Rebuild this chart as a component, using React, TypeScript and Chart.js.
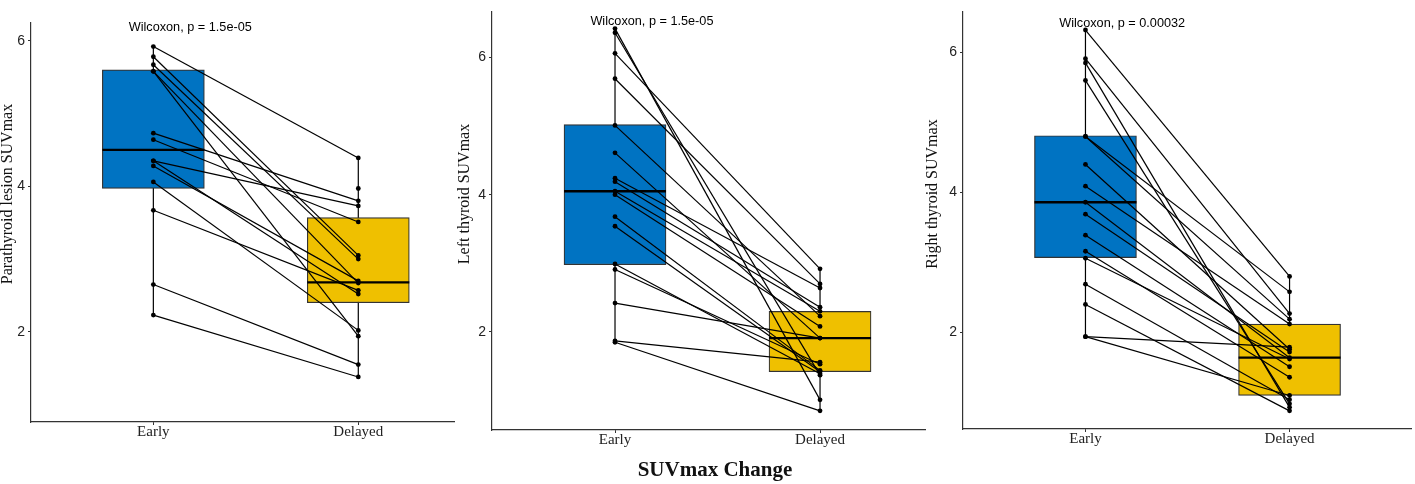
import React, { useEffect, useRef } from 'react';
import { Chart, registerables } from 'chart.js';
Chart.register(...registerables);

// ---- data ----
const xLabels = ['Early', 'Delayed'];
const yTickValues = [2, 4, 6];
const yTitles = ['Parathyroid lesion SUVmax', 'Left thyroid SUVmax', 'Right thyroid SUVmax'];
const pLabels = ['Wilcoxon, p = 1.5e-05', 'Wilcoxon, p = 1.5e-05', 'Wilcoxon, p = 0.00032'];
const xTitle = 'SUVmax Change';

// Panel 1: parathyroid lesion (paired early / delayed values)
const early1 = [5.92, 5.78, 5.67, 5.58, 5.58, 4.73, 4.64, 4.35, 4.35, 4.28, 4.06, 3.67, 2.65, 2.23, null];
const delayed1 = [4.39, 3.05, 3.0, 1.94, 2.67, 3.8, 3.51, 3.73, 2.52, 2.7, 2.02, 2.57, 1.55, 1.38, 3.97];
const box1Early = [3.97, 4.5, 5.6]; // q1, median, q3
const box1Delayed = [2.4, 2.68, 3.57];

// Panel 2: left thyroid
const early2 = [6.42, 6.36, 6.06, 5.69, 5.01, 4.61, 4.24, 4.19, 4.05, 4.0, 3.68, 3.54, 2.99, 2.91, 2.42, 1.87, 1.85];
const delayed2 = [1.01, 1.37, 2.92, 2.7, 2.23, 1.91, 2.64, 2.36, 2.3, 2.08, 1.44, 1.42, 1.39, 1.53, 1.91, 1.56, 0.85];
const box2Early = [2.98, 4.05, 5.02];
const box2Delayed = [1.42, 1.91, 2.3];

// Panel 3: right thyroid
const early3 = [6.32, 5.91, 5.85, 5.6, 4.8, 4.8, 4.4, 4.09, 3.86, 3.69, 3.39, 3.16, 3.06, 2.69, 2.4, 1.94, 1.94];
const delayed3 = [2.8, 2.27, 0.93, 0.98, 2.58, 2.19, 1.76, 2.12, 1.64, 1.72, 1.51, 1.36, 1.62, 1.04, 0.88, 1.79, 1.1];
const box3Early = [3.07, 3.86, 4.81];
const box3Delayed = [1.1, 1.64, 2.12];

const BLUE = '#0073C2';
const YELLOW = '#EFC000';

const panels = [
  {
    early: early1, delayed: delayed1, boxes: [box1Early, box1Delayed],
    left: 0, width: 470, padRight: 16, padTop: 23, yWidth: 31, xHeight: 62,
    xMin: 0.403, xMax: 2.467, yMin: 0.761, yMax: 6.244,
    titleX: 8, titleY: 194, pX: 1.18, pY: 6.18,
  },
  {
    early: early2, delayed: delayed2, boxes: [box2Early, box2Delayed],
    left: 455, width: 480, padRight: 10, padTop: 3, yWidth: 37, xHeight: 54,
    xMin: 0.4, xMax: 2.512, yMin: 0.571, yMax: 6.671,
    titleX: 10, titleY: 194, pX: 1.18, pY: 6.53,
  },
  {
    early: early3, delayed: delayed3, boxes: [box3Early, box3Delayed],
    left: 922, width: 493, padRight: 2, padTop: 5, yWidth: 41, xHeight: 55,
    xMin: 0.4, xMax: 2.595, yMin: 0.621, yMax: 6.586,
    titleX: 11, titleY: 194, pX: 1.18, pY: 6.42,
  },
];

function Panel({ idx }: { idx: number }) {
  const ref = useRef<HTMLCanvasElement | null>(null);
  const cfg = panels[idx];

  useEffect(() => {
    if (!ref.current) return;
    const groups = [cfg.early, cfg.delayed];

    const extras = {
      id: 'boxExtras' + idx,
      beforeDatasetsDraw(chart: any) {
        const { ctx, scales } = chart;
        ctx.save();
        ctx.strokeStyle = '#000';
        ctx.lineWidth = 1.2;
        groups.forEach((vals, g) => {
          const v = (vals as (number | null)[]).filter((d) => d !== null) as number[];
          const px = scales.x.getPixelForValue(g + 1);
          ctx.beginPath();
          ctx.moveTo(px, scales.y.getPixelForValue(Math.max(...v)));
          ctx.lineTo(px, scales.y.getPixelForValue(Math.min(...v)));
          ctx.stroke();
        });
        ctx.restore();
      },
      afterDatasetDraw(chart: any, args: any) {
        if (args.index !== 0) return;
        const { ctx, scales } = chart;
        const meta = chart.getDatasetMeta(0);
        ctx.save();
        ctx.strokeStyle = '#000';
        ctx.lineWidth = 2.4;
        cfg.boxes.forEach((b, g) => {
          const el: any = meta.data[g];
          const y = scales.y.getPixelForValue(b[1]);
          ctx.beginPath();
          ctx.moveTo(el.x - el.width / 2, y);
          ctx.lineTo(el.x + el.width / 2, y);
          ctx.stroke();
        });
        ctx.restore();
      },
      afterDraw(chart: any) {
        const { ctx, scales } = chart;
        ctx.save();
        ctx.fillStyle = '#000';
        ctx.font = '12.7px "Liberation Sans", Arial, sans-serif';
        ctx.textAlign = 'center';
        ctx.textBaseline = 'middle';
        ctx.fillText(pLabels[idx], scales.x.getPixelForValue(cfg.pX), scales.y.getPixelForValue(cfg.pY));
        ctx.translate(cfg.titleX, cfg.titleY);
        ctx.rotate(-Math.PI / 2);
        ctx.font = '16px "Liberation Serif", "Times New Roman", serif';
        ctx.fillStyle = '#111';
        ctx.fillText(yTitles[idx], 0, 0);
        ctx.restore();
      },
    };

    const datasets: any[] = [
      {
        type: 'bar',
        data: cfg.boxes.map((b, g) => ({ x: g + 1, y: [b[0], b[2]] })),
        backgroundColor: [BLUE, YELLOW],
        borderColor: '#333333',
        borderWidth: 1.2,
        borderSkipped: false,
        barThickness: 102,
        order: 2,
      },
      ...cfg.early.map((e, i) => ({
        type: 'line',
        data: [
          { x: 1, y: e },
          { x: 2, y: cfg.delayed[i] },
        ],
        borderColor: '#000',
        borderWidth: 1.2,
        pointRadius: 2.4,
        pointBackgroundColor: '#000',
        pointBorderWidth: 0,
        spanGaps: false,
        order: 1,
      })),
    ];

    const chart = new Chart(ref.current, {
      type: 'bar',
      data: { datasets },
      options: {
        animation: false,
        responsive: false,
        maintainAspectRatio: false,
        layout: { padding: { left: 0, right: cfg.padRight, top: cfg.padTop, bottom: 0 } },
        plugins: { legend: { display: false }, tooltip: { enabled: false } },
        scales: {
          x: {
            type: 'linear',
            min: cfg.xMin,
            max: cfg.xMax,
            offset: false,
            afterBuildTicks: (s: any) => {
              s.ticks = xLabels.map((_, i) => ({ value: i + 1 }));
            },
            afterFit: (s: any) => {
              s.height = cfg.xHeight;
            },
            ticks: {
              callback: (v: any) => xLabels[Math.round(v) - 1] ?? '',
              color: '#222',
              font: { family: '"Liberation Serif", "Times New Roman", serif', size: 15 },
              padding: -2,
              maxRotation: 0,
            },
            grid: { offset: false, drawOnChartArea: false, tickLength: 3, color: '#333' },
            border: { display: true, color: '#333', width: 1.2 },
          },
          y: {
            type: 'linear',
            min: cfg.yMin,
            max: cfg.yMax,
            beginAtZero: false,
            afterBuildTicks: (s: any) => {
              s.ticks = yTickValues.map((v) => ({ value: v }));
            },
            afterFit: (s: any) => {
              s.width = cfg.yWidth;
            },
            ticks: {
              color: '#222',
              font: { family: '"Liberation Sans", Arial, sans-serif', size: 14 },
              padding: 3,
            },
            grid: { drawOnChartArea: false, tickLength: 3, color: '#333' },
            border: { display: true, color: '#333', width: 1.2 },
          },
        },
      },
      plugins: [extras],
    } as any);
    return () => chart.destroy();
  }, [idx]);

  return (
    <canvas
      ref={ref}
      width={cfg.width}
      height={484}
      style={{ position: 'absolute', left: cfg.left, top: 0, width: cfg.width, height: 484 }}
    />
  );
}

export default function App() {
  return (
    <div style={{ position: 'fixed', left: 0, top: 0, width: 1415, height: 484, background: '#fff', overflow: 'hidden' }}>
      {panels.map((_, i) => (
        <Panel key={i} idx={i} />
      ))}
      <div
        style={{
          position: 'absolute',
          left: 565,
          width: 300,
          top: 459,
          textAlign: 'center',
          fontFamily: '"Liberation Serif", "Times New Roman", serif',
          fontWeight: 'bold',
          fontSize: 21,
          lineHeight: '21px',
          color: '#111',
        }}
      >
        {xTitle}
      </div>
    </div>
  );
}
